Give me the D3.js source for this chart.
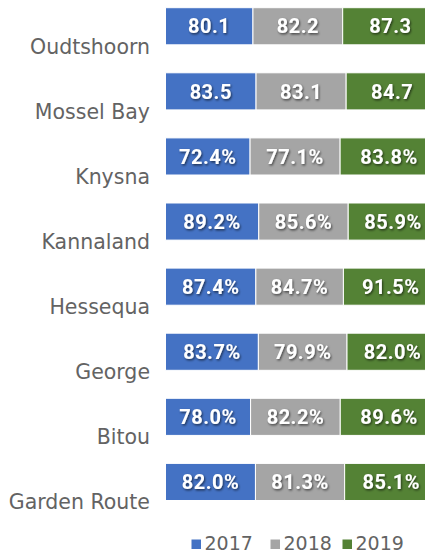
<!DOCTYPE html>
<html>
<head>
<meta charset="utf-8">
<script src="https://cdn.jsdelivr.net/npm/d3@7"></script>
<style>
  body { margin: 0; background: #fff; }
</style>
</head>
<body>
<svg id="chart"></svg>
<script>
const categories = ["Oudtshoorn", "Mossel Bay", "Knysna", "Kannaland", "Hessequa", "George", "Bitou", "Garden Route"];
const years = ["2017", "2018", "2019"];
const v2017 = [80.1, 83.5, 72.4, 89.2, 87.4, 83.7, 78.0, 82.0];
const v2018 = [82.2, 83.1, 77.1, 85.6, 84.7, 79.9, 82.2, 81.3];
const v2019 = [87.3, 84.7, 83.8, 85.9, 91.5, 82.0, 89.6, 85.1];
const showPct = [false, false, true, true, true, true, true, true];
const colors = ["#4472C4", "#A5A5A5", "#548235"];

const width = 433, height = 554;

const rows = categories.map((c, i) => ({cat: c, "2017": v2017[i], "2018": v2018[i], "2019": v2019[i], pct: showPct[i]}));

const svg = d3.select("#chart")
  .attr("width", width)
  .attr("height", height);

// drop shadow for the white labels
const defs = svg.append("defs");
defs.append("filter")
  .attr("id", "shadow")
  .attr("x", "-20%").attr("y", "-20%").attr("width", "140%").attr("height", "160%")
  .append("feDropShadow")
  .attr("dx", 1).attr("dy", 1.4).attr("stdDeviation", 0.9)
  .attr("flood-color", "#000").attr("flood-opacity", 0.6);

// plot area is cut off on the right
defs.append("clipPath").attr("id", "plotclip")
  .append("rect").attr("x", 0).attr("y", 0).attr("width", 425).attr("height", height);

const stack = d3.stack().keys(years).offset(d3.stackOffsetExpand);
const series = stack(rows);

const x = d3.scaleLinear().domain([0, 1]).range([165.5, 438]);
const y = d3.scaleBand()
  .domain(categories)
  .range([-6.3, 514.5])
  .paddingInner(0.43)
  .paddingOuter(0.215);

const bars = svg.append("g").attr("clip-path", "url(#plotclip)");

bars.selectAll("g.series")
  .data(series)
  .join("g")
  .attr("class", "series")
  .attr("fill", (d, i) => colors[i])
  .selectAll("rect")
  .data(d => d)
  .join("rect")
  .attr("x", d => x(d[0]))
  .attr("y", d => y(d.data.cat))
  .attr("width", d => x(d[1]) - x(d[0]))
  .attr("height", y.bandwidth())
  .attr("stroke", "#fff")
  .attr("stroke-width", 1);

// value labels, centred on the full segment
svg.append("g")
  .selectAll("g")
  .data(series)
  .join("g")
  .selectAll("text")
  .data(d => d.map(s => ({s: s, key: d.key})))
  .join("text")
  .attr("x", d => (x(d.s[0]) + x(d.s[1])) / 2)
  .attr("y", d => y(d.s.data.cat) + y.bandwidth() / 2)
  .attr("dy", "0.36em")
  .attr("text-anchor", "middle")
  .attr("fill", "#fff")
  .attr("filter", "url(#shadow)")
  .style("font-family", "Roboto, sans-serif")
  .style("font-weight", "bold")
  .style("letter-spacing", "0.5px")
  .style("font-size", "20px")
  .text(d => d.s.data[d.key].toFixed(1) + (d.s.data.pct ? "%" : ""));

// category labels (sit a bit below their bars, like the original)
svg.append("g")
  .selectAll("text")
  .data(categories)
  .join("text")
  .attr("x", 150)
  .attr("y", d => y(d) + y.bandwidth() / 2 + 20)
  .attr("dy", "0.36em")
  .attr("text-anchor", "end")
  .attr("fill", "#636363")
  .style("font-family", "'DejaVu Sans', sans-serif")
  .style("font-size", "20.5px")
  .text(d => d);

// legend
const legendX = [191.5, 270.5, 342.5];
const legend = svg.append("g")
  .selectAll("g")
  .data(years)
  .join("g")
  .attr("transform", (d, i) => `translate(${legendX[i]}, 0)`);

legend.append("rect")
  .attr("x", 0)
  .attr("y", 539.5)
  .attr("width", 9.5)
  .attr("height", 9.5)
  .attr("fill", (d, i) => colors[i]);

legend.append("text")
  .attr("x", 13)
  .attr("y", 549.5)
  .attr("fill", "#636363")
  .style("font-family", "'DejaVu Sans', sans-serif")
  .style("font-size", "19px")
  .text(d => d);
</script>
</body>
</html>
